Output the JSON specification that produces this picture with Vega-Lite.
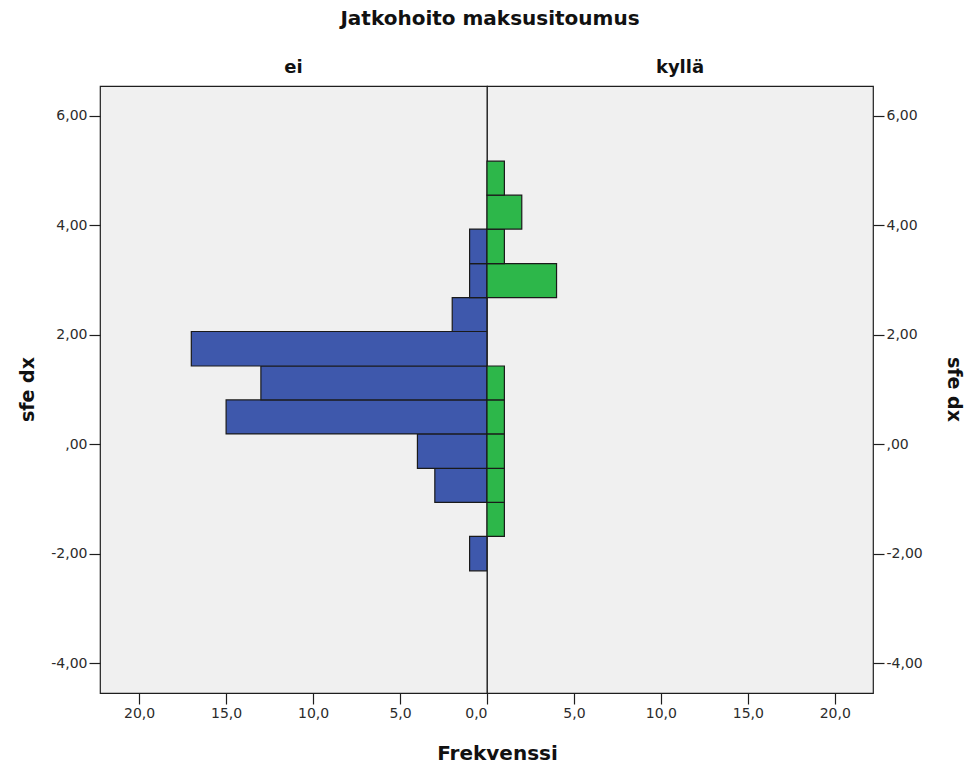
{
  "$schema": "https://vega.github.io/schema/vega-lite/v6.json",
  "background": "white",
  "padding": {"left": 17, "top": 9, "right": 1, "bottom": 4},
  "title": {
    "text": "Jatkohoito maksusitoumus",
    "font": "DejaVu Sans",
    "fontSize": 20,
    "fontWeight": "bold",
    "color": "#111111",
    "anchor": "middle",
    "offset": 29
  },
  "datasets": {
    "bins": [
      {"group": "ei", "lo": -2.31, "hi": -1.68, "n": 1},
      {"group": "ei", "lo": -1.06, "hi": -0.44, "n": 3},
      {"group": "ei", "lo": -0.44, "hi": 0.19, "n": 4},
      {"group": "ei", "lo": 0.19, "hi": 0.81, "n": 15},
      {"group": "ei", "lo": 0.81, "hi": 1.43, "n": 13},
      {"group": "ei", "lo": 1.43, "hi": 2.06, "n": 17},
      {"group": "ei", "lo": 2.06, "hi": 2.68, "n": 2},
      {"group": "ei", "lo": 2.68, "hi": 3.3, "n": 1},
      {"group": "ei", "lo": 3.3, "hi": 3.93, "n": 1},
      {"group": "kyllä", "lo": -1.68, "hi": -1.06, "n": 1},
      {"group": "kyllä", "lo": -1.06, "hi": -0.44, "n": 1},
      {"group": "kyllä", "lo": -0.44, "hi": 0.19, "n": 1},
      {"group": "kyllä", "lo": 0.19, "hi": 0.81, "n": 1},
      {"group": "kyllä", "lo": 0.81, "hi": 1.43, "n": 1},
      {"group": "kyllä", "lo": 2.68, "hi": 3.3, "n": 4},
      {"group": "kyllä", "lo": 3.3, "hi": 3.93, "n": 1},
      {"group": "kyllä", "lo": 3.93, "hi": 4.55, "n": 2},
      {"group": "kyllä", "lo": 4.55, "hi": 5.17, "n": 1}
    ]
  },
  "data": {"name": "bins"},
  "spacing": 0,
  "bounds": "flush",
  "config": {
    "view": {"fill": "#F0F0F0", "stroke": "#1e1e1e", "strokeWidth": 1.2},
    "axis": {
      "labelFont": "DejaVu Sans",
      "labelFontSize": 14,
      "labelColor": "#2b2b2b",
      "tickColor": "#1e1e1e",
      "tickSize": 11,
      "tickWidth": 1.2,
      "labelPadding": 2,
      "domain": false,
      "grid": false,
      "titleFont": "DejaVu Sans",
      "titleFontWeight": "bold",
      "titleColor": "#111111"
    }
  },
  "hconcat": [
    {
      "width": 387,
      "height": 607,
      "title": {"text": "ei", "font": "DejaVu Sans", "fontSize": 18, "fontWeight": "bold", "color": "#111111", "anchor": "middle", "baseline": "bottom", "offset": -9},
      "transform": [{"filter": "datum.group == 'ei'"}],
      "mark": {"type": "bar", "stroke": "#1a1a1a", "strokeWidth": 1.2},
      "encoding": {
        "y": {
          "field": "lo", "type": "quantitative",
          "scale": {"domain": [-4.542, 6.543], "nice": false, "zero": false},
          "axis": {
            "orient": "left",
            "values": [-4, -2, 0, 2, 4, 6],
            "labelExpr": "datum.value == 0 ? ',00' : datum.value + ',00'",
            "title": "sfe dx",
            "titleFontSize": 19,
            "titleAngle": -90,
            "titleBaseline": "alphabetic",
            "titleAlign": "center",
            "titleX": -67,
            "titleY": 303
          }
        },
        "y2": {"field": "hi"},
        "x": {
          "field": "n", "type": "quantitative",
          "scale": {"domain": [0, 22.25], "reverse": true, "nice": false},
          "axis": {
            "values": [20, 15, 10, 5, 0],
            "labelExpr": "datum.value + ',0'",
            "title": "Frekvenssi",
            "titleFontSize": 20,
            "titleBaseline": "alphabetic",
            "titleAlign": "center",
            "titleX": 397,
            "titleY": 66
          }
        },
        "x2": {"datum": 0},
        "color": {"value": "#3E58AC"}
      }
    },
    {
      "width": 386,
      "height": 607,
      "title": {"text": "kyllä", "font": "DejaVu Sans", "fontSize": 18, "fontWeight": "bold", "color": "#111111", "anchor": "middle", "baseline": "bottom", "offset": -9},
      "transform": [{"filter": "datum.group == 'kyllä'"}],
      "mark": {"type": "bar", "stroke": "#1a1a1a", "strokeWidth": 1.2},
      "encoding": {
        "y": {
          "field": "lo", "type": "quantitative",
          "scale": {"domain": [-4.542, 6.543], "nice": false, "zero": false},
          "axis": {
            "orient": "right",
            "values": [-4, -2, 0, 2, 4, 6],
            "labelExpr": "datum.value == 0 ? ',00' : datum.value + ',00'",
            "title": "sfe dx",
            "titleFontSize": 19,
            "titleAngle": 90,
            "titleBaseline": "alphabetic",
            "titleAlign": "center",
            "titleX": 74,
            "titleY": 303
          }
        },
        "y2": {"field": "hi"},
        "x": {
          "field": "n", "type": "quantitative",
          "scale": {"domain": [0, 22.2], "nice": false},
          "axis": {
            "values": [5, 10, 15, 20],
            "labelExpr": "datum.value + ',0'",
            "title": null
          }
        },
        "x2": {"datum": 0},
        "color": {"value": "#2DB74A"}
      }
    }
  ]
}
